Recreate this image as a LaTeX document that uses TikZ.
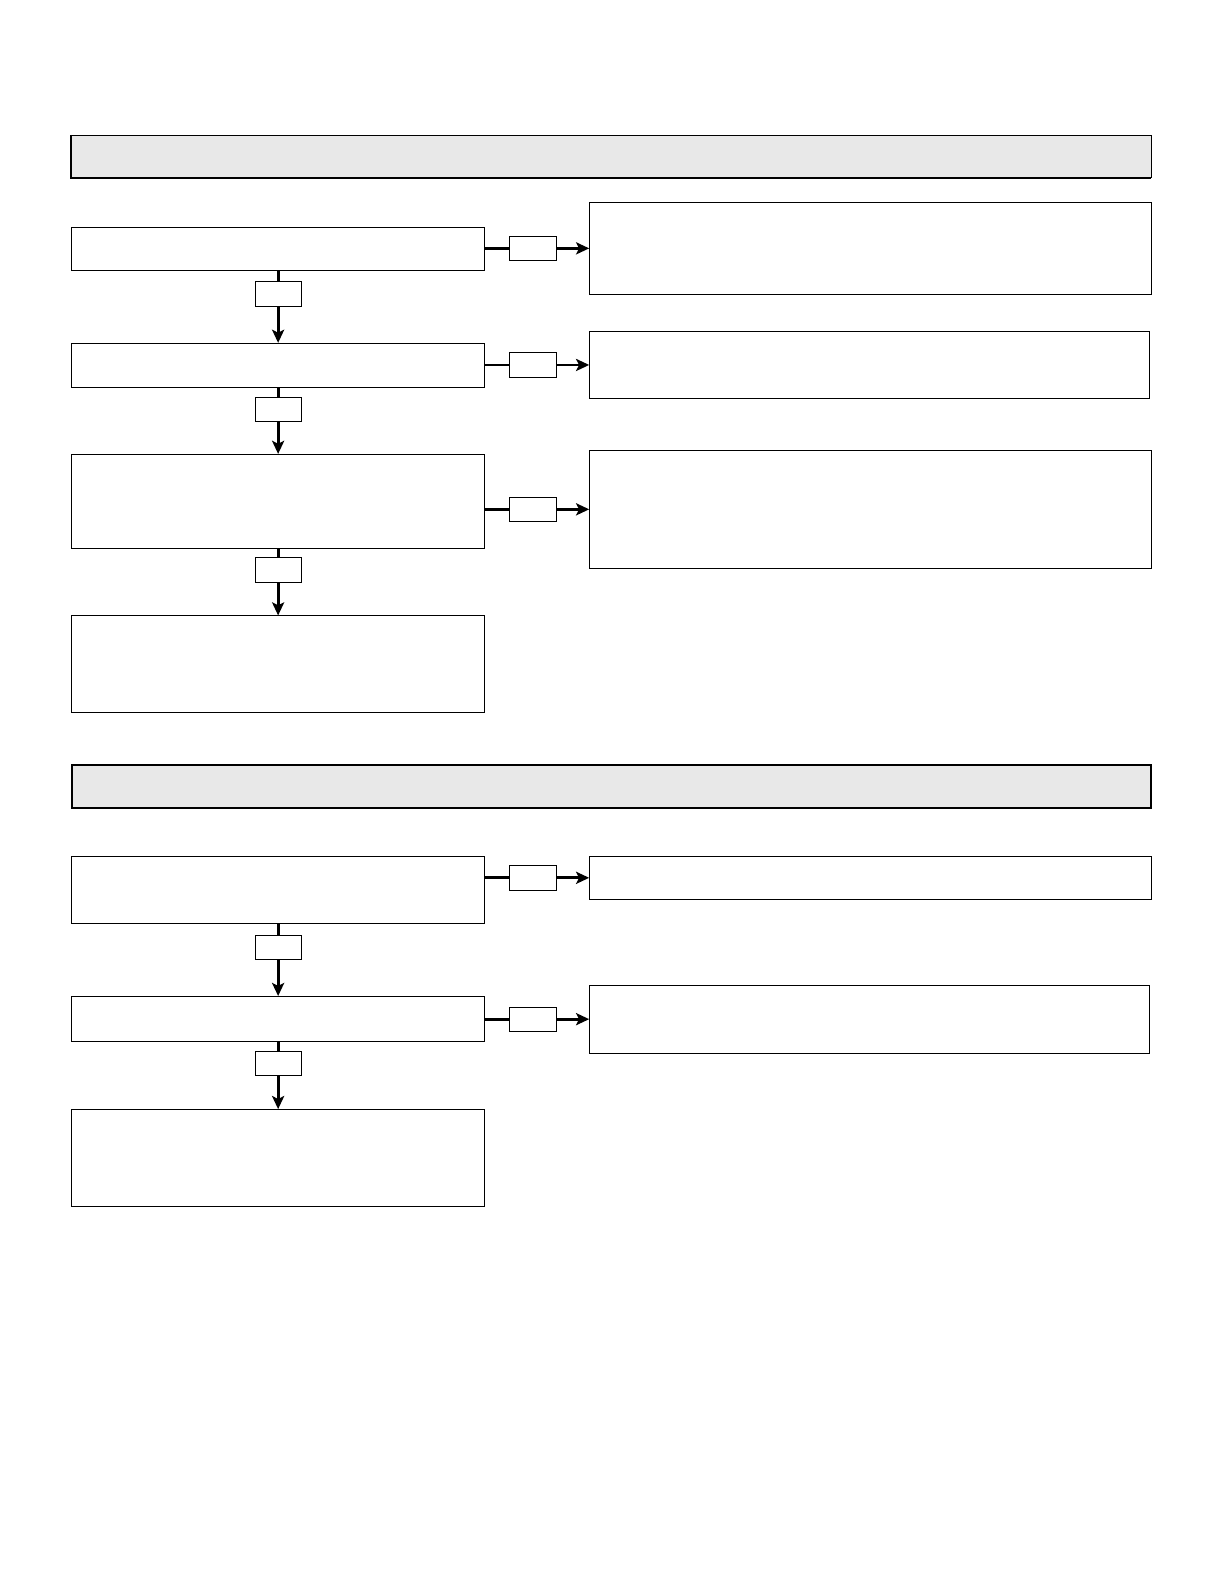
\documentclass[tikz,border=0pt]{standalone}
\usetikzlibrary{arrows.meta}
\definecolor{barfill}{HTML}{E8E8E8}
\tikzset{
  box/.style={draw, line width=0.8pt, inner sep=0pt},
  tagbox/.style={draw, fill=white, line width=0.8pt, inner sep=0pt,
    minimum width=46pt, minimum height=24pt},
  flow/.style={line width=2.8pt, -{Stealth[length=13pt,width=12pt,inset=3pt]}},
  headbar/.style={draw, fill=barfill, line width=0.8pt, inner sep=0pt,
    minimum width=1069pt, minimum height=42pt}
}
\begin{document}
\begin{tikzpicture}[x=1pt,y=-1pt]
\useasboundingbox (0,0) rectangle (1212.4,1569);
% header bars
\node[headbar] (head1) at (605.5,155) {};
\draw[line width=2.4pt] (head1.north west) -- (head1.south west) -- (head1.south east);
\node[headbar, line width=2pt] (head2) at (605.5,779) {};
% edit here for the boxes: name/x/y/width/height
\foreach \n/\x/\y/\w/\h in {stepA/275.5/246.5/409/43, stepB/275.5/362/409/44,
    stepC/275.5/496.5/409/93, stepD/275.5/658/409/96,
    sideA/862/246/556/92, sideB/861.5/361.5/555/67, sideC/862/504.5/556/117,
    stepE/275.5/881.5/409/67, stepF/275.5/1009.5/409/45, stepG/275.5/1147/409/96,
    sideE/862/869.5/556/43, sideF/861.5/1009.5/555/67}
  \node[box, minimum width=\w pt, minimum height=\h pt] (\n) at (\x,\y) {};
% edit here for the downward arrows
\foreach \a/\b in {stepA/stepB, stepB/stepC, stepC/stepD, stepE/stepF, stepF/stepG}
  \draw[flow] (\a.south) -- node[tagbox, pos=0.32] {} (\b.north);
% edit here for the side arrows
\foreach \a/\b in {stepA/sideA, stepB/sideB, stepC/sideC, stepE/sideE, stepF/sideF}
  \draw[flow] (\b.west -| \a.east) -- node[tagbox, pos=0.46] {} (\b.west);
\end{tikzpicture}
\end{document}
